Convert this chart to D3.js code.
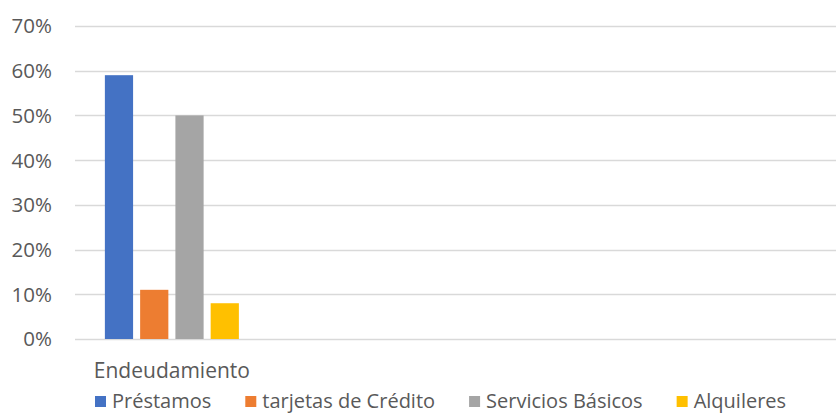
<!DOCTYPE html>
<html><head><meta charset="utf-8">
<script src="https://cdn.jsdelivr.net/npm/d3@7"></script>
<style>body{margin:0;background:#fff}svg{display:block}text{font-family:"Open Sans",Lato,sans-serif;fill:#595959}</style>
</head><body><svg id="c" width="836" height="414"></svg>
<script>
const categories = ["Endeudamiento", "", "", ""];
const seriesNames = ["Préstamos", "tarjetas de Crédito", "Servicios Básicos", "Alquileres"];
const seriesColors = ["#4472C4", "#ED7D31", "#A5A5A5", "#FFC000"];
const prestamos = [0.59, null, null, null];
const tarjetas = [0.11, null, null, null];
const servicios = [0.50, null, null, null];
const alquileres = [0.08, null, null, null];
const yTicks = [0, 0.1, 0.2, 0.3, 0.4, 0.5, 0.6, 0.7];

const series = [prestamos, tarjetas, servicios, alquileres];
const svg = d3.select("#c");
const m = {l: 75, r: 0, t: 26, b: 75};
const W = 836, H = 414;
const x = d3.scaleBand().domain(d3.range(categories.length)).range([m.l + 2, W - m.r]);
const y = d3.scaleLinear().domain([0, 0.7]).range([H - m.b, m.t]);
const groupW = 134;
const x1 = d3.scaleBand().domain(d3.range(series.length)).range([0, groupW]).paddingInner(0.2);

svg.append("g").selectAll("line").data(yTicks).join("line")
  .attr("x1", m.l).attr("x2", W - m.r)
  .attr("y1", d => Math.round(y(d)) + 0.5).attr("y2", d => Math.round(y(d)) + 0.5)
  .attr("stroke", "#D9D9D9").attr("stroke-width", 1.3);

svg.append("g").selectAll("text").data(yTicks).join("text")
  .attr("x", 52).attr("y", d => y(d)).attr("dy", "0.36em")
  .attr("text-anchor", "end").attr("font-size", 20.5)
  .text(d => d3.format(".0%")(d));

const groups = svg.append("g").selectAll("g").data(categories).join("g")
  .attr("transform", (d, i) => `translate(${x(i) + x.bandwidth() / 2 - groupW / 2},0)`);
groups.selectAll("rect").data((d, i) => series.map((s, k) => ({k, v: s[i]})).filter(e => e.v != null))
  .join("rect")
  .attr("x", e => x1(e.k)).attr("width", x1.bandwidth())
  .attr("y", e => y(e.v)).attr("height", e => y(0) - y(e.v))
  .attr("fill", e => seriesColors[e.k]);

svg.append("g").selectAll("text").data(categories).join("text")
  .attr("x", (d, i) => x(i) + x.bandwidth() / 2).attr("y", 378)
  .attr("text-anchor", "middle").attr("font-size", 21).text(d => d);

const leg = svg.append("g").attr("transform", "translate(95,0)");
let cx = 0;
seriesNames.forEach((n, k) => {
  const g = leg.append("g").attr("transform", `translate(${cx},0)`);
  g.append("rect").attr("x", 0).attr("y", 396).attr("width", 11).attr("height", 11).attr("fill", seriesColors[k]);
  const t = g.append("text").attr("x", 17).attr("y", 408).attr("font-size", 20).text(n);
  cx += 17 + t.node().getComputedTextLength() + 34;
});
</script></body></html>
